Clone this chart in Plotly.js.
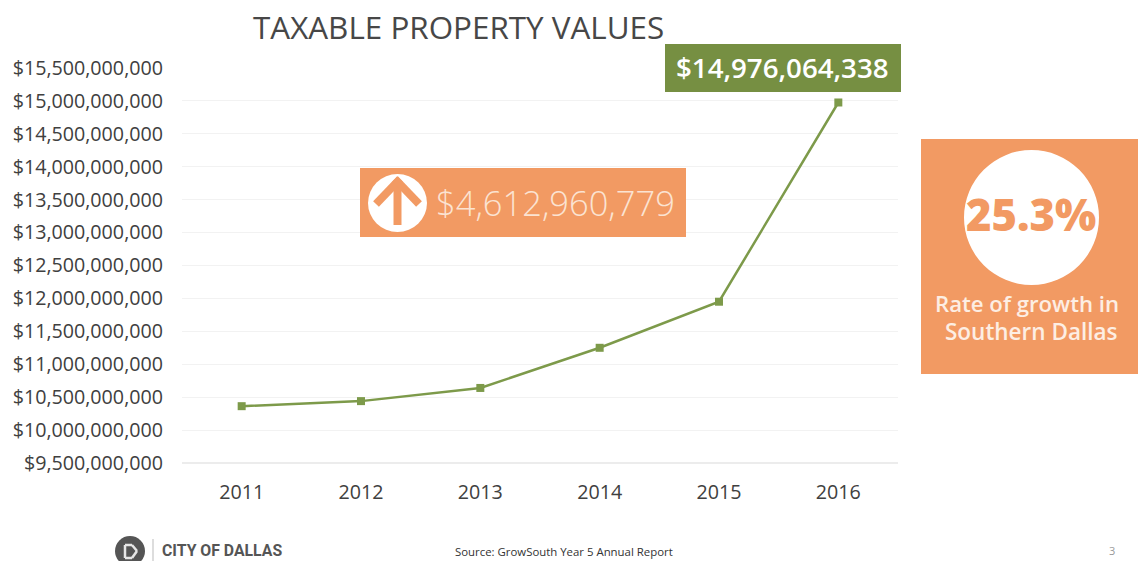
<!DOCTYPE html>
<html>
<head>
<meta charset="utf-8">
<script src="https://cdn.plot.ly/plotly-3.0.1.min.js"></script>
<style>html,body{margin:0;padding:0;background:#fff}#chart{width:1138px;height:561px}</style>
</head>
<body>
<div id="chart"></div>
<script>
const years = ['2011','2012','2013','2014','2015','2016'];
const values = [10363103559, 10440000000, 10640000000, 11250000000, 11950000000, 14976064338];
const tickValues = [9.5e9,10e9,10.5e9,11e9,11.5e9,12e9,12.5e9,13e9,13.5e9,14e9,14.5e9,15e9,15.5e9];
const tickLabels = ['$9,500,000,000','$10,000,000,000','$10,500,000,000','$11,000,000,000','$11,500,000,000','$12,000,000,000','$12,500,000,000','$13,000,000,000','$13,500,000,000','$14,000,000,000','$14,500,000,000','$15,000,000,000','$15,500,000,000'];
const titleText = 'TAXABLE PROPERTY VALUES';
const increaseText = '$4,612,960,779';
const latestText = '$14,976,064,338';
const rateText = '25.3%';
const rateCaption1 = 'Rate of growth in';
const rateCaption2 = 'Southern Dallas';
const orgText = 'CITY OF DALLAS';
const sourceText = 'Source: GrowSouth Year 5 Annual Report';
const pageText = '3';

const W = 1138, H = 561, L = 182, R = 898, T = 68, B = 463;
const px = x => (x - L) / (R - L);
const py = y => (B - y) / (B - T);
const FONT = '"Open Sans", sans-serif';
const ORANGE = '#f29a63', GREEN = '#768f42', LINE = '#7d9a4a';

function box(x0, y0, x1, y1, fill) {
  return {type:'rect', xref:'paper', yref:'paper', x0:px(x0), x1:px(x1), y0:py(y1), y1:py(y0),
          fillcolor:fill, line:{width:0}, layer:'above'};
}
function circle(x0, y0, x1, y1, fill) {
  return Object.assign(box(x0, y0, x1, y1, fill), {type:'circle'});
}
function line(x0, y0, x1, y1, color, width) {
  return {type:'line', xref:'paper', yref:'paper', x0:px(x0), x1:px(x1), y0:py(y0), y1:py(y1),
          line:{color, width}, layer:'above'};
}
function label(x, y, text, size, color, weight, extra) {
  return Object.assign({xref:'paper', yref:'paper', x:px(x), y:py(y), text, showarrow:false,
    xanchor:'center', yanchor:'middle', font:{family:FONT, size, color, weight:weight || 400}}, extra || {});
}

const shapes = [
  {type:'line', xref:'paper', yref:'paper', x0:0, x1:1, y0:0, y1:0, line:{color:'#d9d9d9', width:1}, layer:'below'},
  box(360, 168, 686, 237, ORANGE),
  circle(368, 174, 427, 232, '#ffffff'),
  line(397.5, 225, 397.5, 184, ORANGE, 8),
  line(376, 204, 400, 179, ORANGE, 8),
  line(419, 204, 395, 179, ORANGE, 8),
  box(665, 44, 901, 92, GREEN),
  box(921, 139, 1138, 374, ORANGE),
  circle(964, 150, 1099, 285, '#ffffff'),
  circle(115, 536, 145, 566, '#555555'),
  line(125, 545, 125, 558, '#e6e6e6', 2.5),
  line(125, 545, 132, 545, '#e6e6e6', 2.5),
  line(125, 558, 132, 558, '#e6e6e6', 2.5),
  line(132, 545, 137, 551, '#e6e6e6', 2.5),
  line(137, 551, 132, 558, '#e6e6e6', 2.5),
  line(153, 539, 153, 561, '#bbbbbb', 1)
];

const annotations = [
  label(458.5, 26, titleText, 31.4, '#474747', 500),
  label(555, 202, increaseText, 34.5, '#fbe3d2', 300),
  label(782.5, 67, latestText, 27.7, '#ffffff', 600),
  label(1031, 214, rateText, 43.5, ORANGE, 800),
  label(1026.5, 303, rateCaption1, 22.2, '#fdeee3', 600),
  label(1031, 331, rateCaption2, 22.5, '#fdeee3', 600),
  label(222, 550, orgText, 15.8, '#555555', 700, {font:{family:'Roboto, sans-serif', size:15.8, color:'#555555', weight:700}}),
  label(563.5, 551, sourceText, 11.4, '#333333'),
  label(1112, 550, pageText, 11, '#999999')
];

const trace = {
  type:'scatter', mode:'lines+markers', x:years, y:values,
  line:{color:LINE, width:2.5},
  marker:{symbol:'square', size:8, color:LINE},
  hoverinfo:'x+y', cliponaxis:false
};

const tickFont = {family:FONT, size:19.7, color:'#404040', weight:500};
const layout = {
  width:W, height:H,
  margin:{l:L, r:W-R, t:T, b:H-B, pad:0},
  paper_bgcolor:'#ffffff', plot_bgcolor:'#ffffff',
  showlegend:false,
  font:{family:FONT, color:'#404040'},
  xaxis:{type:'category', range:[-0.5,5.5], showgrid:false, zeroline:false, showline:false,
         ticks:'', tickfont:tickFont, ticklabelstandoff:15},
  yaxis:{range:[9.5e9,15.5e9], tickmode:'array', tickvals:tickValues, ticktext:tickLabels,
         showgrid:true, gridcolor:'#f2f2f2', gridwidth:1, zeroline:false, showline:false,
         ticks:'', tickfont:tickFont, ticklabelstandoff:18},
  shapes, annotations
};

Plotly.newPlot('chart', [trace], layout, {displayModeBar:false, responsive:false});
</script>
</body>
</html>
